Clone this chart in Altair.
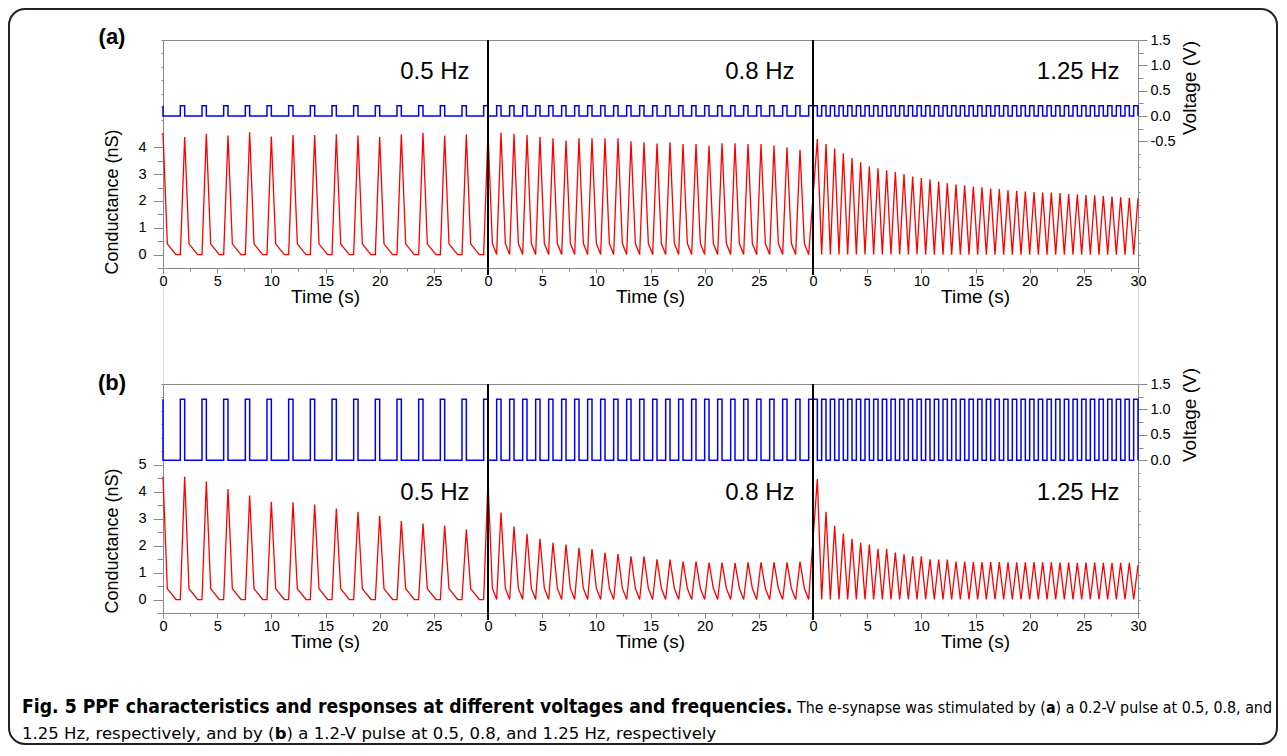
import altair as alt
import pandas as pd

FONT = "Liberation Sans, Arial, Helvetica, sans-serif"
CAP_FONT = "DejaVu Sans Condensed, Liberation Sans Narrow, DejaVu Sans, sans-serif"
CAP_FONT2 = "DejaVu Sans, sans-serif"

# ---------------- data ----------------
freq_labels = ["0.5 Hz", "0.8 Hz", "1.25 Hz"]
panel_starts = [0.0, 30.0, 60.0]
pulse_period = [2.0, 1.2, 0.8]      # s, as drawn
pulse_first = [1.6, 0.8, 0.0]       # first pulse onset inside each panel
pulse_count = [15, 25, 38]
pulse_width = 0.4
amp_a = 0.2                         # V
amp_b = 1.2                         # V

# conductance relaxation after each peak (time after peak, nS)
decay_05 = [(0.4, 0.40), (0.6, 0.30), (1.2, 0.0), (1.6, 0.0)]
decay_08 = [(0.4, 0.42), (0.8, 0.0)]

# (a) 0.2 V peaks
a_peaks_05 = [4.54, 4.38, 4.50, 4.44, 4.56, 4.40, 4.46, 4.46, 4.49, 4.44, 4.38, 4.49, 4.54, 4.44, 4.48]
a_peaks_08 = [4.56, 4.54, 4.50, 4.46, 4.39, 4.34, 4.25, 4.34, 4.34, 4.34, 4.34, 4.22, 4.19,
              4.14, 4.19, 4.12, 4.12, 4.06, 4.15, 4.15, 4.12, 4.12, 4.07, 4.00, 3.91]
a_peaks_125 = [4.31, 4.12, 3.95, 3.78, 3.60, 3.44, 3.28, 3.22, 3.14, 3.08, 3.00, 2.91, 2.85,
               2.80, 2.72, 2.66, 2.61, 2.58, 2.54, 2.51, 2.46, 2.44, 2.40, 2.38, 2.35, 2.33,
               2.31, 2.31, 2.29, 2.26, 2.24, 2.22, 2.21, 2.19, 2.16, 2.14, 2.12]
a_end = 2.10

# (b) 1.2 V peaks
b_peaks_05 = [4.56, 4.56, 4.38, 4.10, 3.86, 3.63, 3.61, 3.53, 3.38, 3.26, 3.11, 2.91, 2.82, 2.75, 2.60]
b_peaks_08 = [4.44, 3.23, 2.71, 2.44, 2.25, 2.11, 2.04, 1.92, 1.87, 1.74, 1.69, 1.60, 1.60,
              1.49, 1.48, 1.41, 1.41, 1.37, 1.37, 1.36, 1.38, 1.38, 1.38, 1.38, 1.41]
b_peaks_125 = [4.47, 3.26, 2.74, 2.45, 2.25, 2.11, 2.04, 1.88, 1.87, 1.74, 1.68, 1.60, 1.60,
               1.49, 1.48, 1.48, 1.41, 1.41, 1.39, 1.39, 1.39, 1.39, 1.38, 1.38, 1.38, 1.39,
               1.38, 1.38, 1.37, 1.37, 1.36, 1.37, 1.37, 1.36, 1.36, 1.36, 1.36]
b_end = 1.27

x_tick_values = [i * 2.5 for i in range(37)]
boundaries = [30.0, 60.0]
freq_label_t = [28.3, 58.3, 88.3]
time_title_t = [15.0, 45.0, 75.0]

caption_bold = "Fig. 5 PPF characteristics and responses at different voltages and frequencies."
caption_1a = "The e-synapse was stimulated by ("
caption_1b = "a"
caption_1c = ") a 0.2-V pulse at 0.5, 0.8, and"
caption_2a = "1.25 Hz, respectively, and by ("
caption_2b = "b"
caption_2c = ") a 1.2-V pulse at 0.5, 0.8, and 1.25 Hz, respectively"

# ---------------- layout (pixels) ----------------
W = 975
HA, HB, GAP = 228, 229, 116
TOP_B = HA + GAP
TOTAL_H = TOP_B + HB
PAD_L, PAD_T = 155, 32
SVG_W, SVG_H = 1271, 738
TICK_FS = 14.5
TITLE_FS = 19


def conductance_df(p05, p08, p125, end_val):
    t, g = [], []
    for i, pk in enumerate(p05):
        T = panel_starts[0] + pulse_period[0] * i
        t.append(T); g.append(pk)
        for dt, v in decay_05:
            t.append(T + dt); g.append(v)
    for i, pk in enumerate(p08):
        T = panel_starts[1] + pulse_period[1] * i
        t.append(T); g.append(pk)
        for dt, v in decay_08:
            t.append(T + dt); g.append(v)
    for i, pk in enumerate(p125):
        T = panel_starts[2] + pulse_width + pulse_period[2] * i
        t.append(T); g.append(pk)
        t.append(T + pulse_width); g.append(0.0)
    t.append(90.0); g.append(end_val)
    return pd.DataFrame({"t": t, "g": g, "i": range(len(t))})


def voltage_df(amp):
    t, v = [0.0, 0.0], [amp, 0.0]
    for p in range(3):
        for k in range(pulse_count[p]):
            s = panel_starts[p] + pulse_first[p] + pulse_period[p] * k
            t += [s, s, s + pulse_width, s + pulse_width]
            v += [0.0, amp, amp, 0.0]
    return pd.DataFrame({"t": t, "v": v, "i": range(len(t))})


def text(s, x, y, size, weight="normal", align="center", baseline="middle",
         angle=0, font=FONT):
    return alt.Chart(pd.DataFrame({"s": [s]})).mark_text(
        align=align, baseline=baseline, fontSize=size, fontWeight=weight,
        font=font, angle=angle, color="black"
    ).encode(x=alt.value(x), y=alt.value(y), text="s:N")


XSCALE = alt.Scale(domain=[0, 90], nice=False, zero=False)


def row(p05, p08, p125, end_val, amp, tag, cmax, vmin_label, top, h,
        freq_y, time_y, tag_y, ctitle_y, vtitle_y):
    bottom_axis = alt.Axis(
        orient="bottom", offset=-(TOTAL_H - (top + h)),
        values=x_tick_values, title=None, grid=False, labelOverlap=False, labelFlush=False,
        labelExpr="datum.value % 5 != 0 ? '' : (datum.value == 90 ? '30' : format(datum.value % 30, 'd'))",
        tickSize={"condition": {"test": "datum.value % 5 == 0", "value": 5}, "value": 3},
        labelFontSize=TICK_FS, labelPadding=1, labelFont=FONT,
    )
    top_axis = alt.Axis(orient="top", offset=-top, labels=False, ticks=False,
                        domain=True, title=None, grid=False)
    c_axis = alt.Axis(
        orient="left",
        values=[i * 0.5 - 0.5 for i in range(18)], title=None, grid=False,
        labelOverlap=False, labelFlush=False, labelFontSize=TICK_FS, labelFont=FONT, labelPadding=7,
        labelExpr=f"(datum.value % 1 == 0 && datum.value >= 0 && datum.value <= {cmax}) ? format(datum.value, 'd') : ''",
        tickSize={"condition": [
            {"test": f"datum.value % 1 == 0 && datum.value >= 0 && datum.value <= {cmax}", "value": 10},
            {"test": f"datum.value <= {cmax}", "value": 6}], "value": 2},
    )
    v_axis = alt.Axis(
        orient="right", values=[i * 0.25 - 3 for i in range(19)], title=None, grid=False,
        labelOverlap=False, labelFlush=False, labelFontSize=TICK_FS, labelFont=FONT, labelPadding=3,
        labelExpr=f"(datum.value % 0.5 == 0 && datum.value >= {vmin_label}) ? (datum.value < 0 ? '-' + format(-datum.value, '.1f') : format(datum.value, '.1f')) : ''",
        tickSize={"condition": [
            {"test": f"datum.value % 0.5 == 0 && datum.value >= {vmin_label}", "value": 9},
            {"test": f"datum.value >= {vmin_label}", "value": 5}], "value": 2},
    )

    red = alt.Chart(conductance_df(p05, p08, p125, end_val)).mark_line(
        color="#ff0000", strokeWidth=1.3).encode(
        x=alt.X("t:Q", scale=XSCALE, axis=bottom_axis),
        y=alt.Y("g:Q", scale=alt.Scale(domain=[-0.5, 8], range=[top + h, top], nice=False, zero=False),
                axis=c_axis),
        order=alt.Order("i:Q"),
    )
    blue = alt.Chart(voltage_df(amp)).mark_line(
        color="#0000ff", strokeWidth=1.5).encode(
        x=alt.X("t:Q", scale=XSCALE, axis=top_axis),
        y=alt.Y("v:Q", scale=alt.Scale(domain=[-3, 1.5], range=[top + h, top], nice=False, zero=False),
                axis=v_axis),
        order=alt.Order("i:Q"),
    )
    bnd = alt.Chart(pd.DataFrame({"t": boundaries})).mark_rule(
        color="black", strokeWidth=2).encode(
        x=alt.X("t:Q", scale=XSCALE, axis=None),
        y=alt.value(top), y2=alt.value(top + h + 7),
    )
    freq = alt.Chart(pd.DataFrame({"t": freq_label_t, "s": freq_labels})).mark_text(
        align="right", baseline="alphabetic", fontSize=24, font=FONT, color="black").encode(
        x=alt.X("t:Q", scale=XSCALE, axis=None), y=alt.value(top + freq_y), text="s:N")
    ttl = alt.Chart(pd.DataFrame({"t": time_title_t, "s": ["Time (s)"] * 3})).mark_text(
        align="center", baseline="middle", fontSize=TITLE_FS, font=FONT, color="black").encode(
        x=alt.X("t:Q", scale=XSCALE, axis=None), y=alt.value(top + time_y), text="s:N")

    return [red, blue, bnd, freq, ttl,
            text(tag, -51, top + tag_y, 22, weight="bold"),
            text("Conductance (nS)", -50, top + ctitle_y, 18, angle=270),
            text("Voltage (V)", 1027, top + vtitle_y, TITLE_FS, angle=270)]


border = alt.Chart(pd.DataFrame({"d": [0]})).mark_rect(
    fillOpacity=0, stroke="#222222", strokeWidth=2, cornerRadius=16).encode(
    x=alt.value(9 - 163), x2=alt.value(1277 - 163), y=alt.value(9 - 40), y2=alt.value(744 - 40))

L1, L2 = 713 - 40, 739 - 40
X0 = 22 - 163
cap = [
    text(caption_bold, X0, L1, 19.2, weight="bold", align="left", baseline="alphabetic",
         font=CAP_FONT),
    text(caption_1a, 797 - 163, L1, 15.85, align="left", baseline="alphabetic", font=CAP_FONT),
    text(caption_1b, 1046 - 163, L1, 15.85, weight="bold", align="left", baseline="alphabetic",
         font=CAP_FONT),
    text(caption_1c, 1055.6 - 163, L1, 15.85, align="left", baseline="alphabetic", font=CAP_FONT),
    text(caption_2a, X0, L2, 16.5, align="left", baseline="alphabetic", font=CAP_FONT2),
    text(caption_2b, 274.8 - 163, L2, 16.5, weight="bold", align="left", baseline="alphabetic",
         font=CAP_FONT2),
    text(caption_2c, 286.6 - 163, L2, 16.5, align="left", baseline="alphabetic", font=CAP_FONT2),
]

layers = (
    row(a_peaks_05, a_peaks_08, a_peaks_125, a_end, amp_a, "(a)", 4, -0.5, 0, HA,
        freq_y=39, time_y=257, tag_y=-3, ctitle_y=162, vtitle_y=48)
    + row(b_peaks_05, b_peaks_08, b_peaks_125, b_end, amp_b, "(b)", 5, 0, TOP_B, HB,
          freq_y=116, time_y=258, tag_y=-1, ctitle_y=157, vtitle_y=31)
    + [border] + cap
)

chart = alt.layer(*layers).resolve_scale(x="independent", y="independent").resolve_axis(
    x="independent", y="independent"
).properties(
    width=W, height=TOTAL_H,
    autosize=alt.AutoSizeParams(type="none"),
    padding={"left": PAD_L, "top": PAD_T, "right": SVG_W - PAD_L - W, "bottom": SVG_H - PAD_T - TOTAL_H},
).configure_view(stroke=None).configure_axis(
    domainColor="#555555", domainWidth=1.3, tickColor="#555555", tickWidth=1.2,
    labelColor="black"
).configure(background="white")

chart.save("out.html", embed_options={"renderer": "svg", "actions": False})
